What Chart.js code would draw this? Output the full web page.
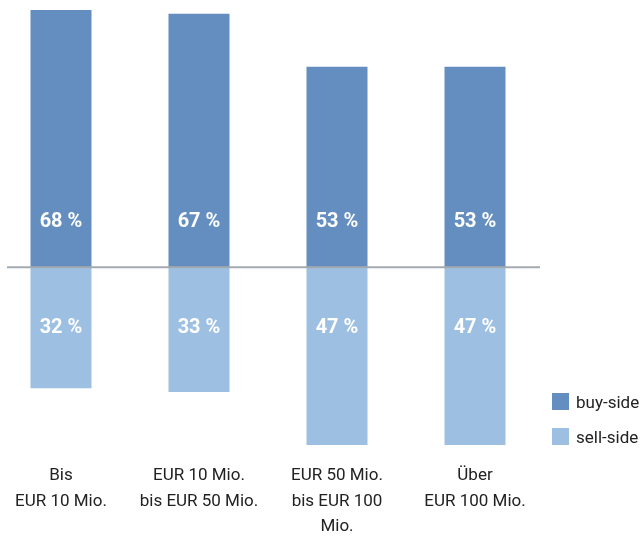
<!DOCTYPE html>
<html>
<head>
<meta charset="utf-8">
<script src="https://cdn.jsdelivr.net/npm/chart.js@4/dist/chart.umd.min.js"></script>
<style>
  html, body { margin: 0; padding: 0; background: #ffffff; overflow: hidden; font-family: Roboto, "Noto Sans", sans-serif; }
  #wrap { position: absolute; left: -8px; top: 0; width: 652px; height: 536px; }
  #legend { position: absolute; left: 552px; top: 393px; }
  .item { display: flex; align-items: center; height: 17px; margin-bottom: 18px; font-size: 17px; color: #222222; }
  .box { width: 17px; height: 17px; margin-right: 7px; }
</style>
</head>
<body>
<div id="wrap"><canvas id="c" width="652" height="536"></canvas></div>
<div id="legend"></div>
<script>
const categories = [
  ['Bis', 'EUR 10 Mio.'],
  ['EUR 10 Mio.', 'bis EUR 50 Mio.'],
  ['EUR 50 Mio.', 'bis EUR 100', 'Mio.'],
  ['Über', 'EUR 100 Mio.']
];
const buySide = [68, 67, 53, 53];
const sellSide = [32, 33, 47, 47];
const seriesNames = ['buy-side', 'sell-side'];
const seriesColors = ['#638ebf', '#9dbfe2'];

const FONT = 'Roboto, "Noto Sans", sans-serif';

const zeroLine = {
  id: 'zeroLine',
  afterDatasetsDraw(chart) {
    const y = chart.scales.y.getPixelForValue(0);
    const a = chart.chartArea;
    const ctx = chart.ctx;
    ctx.save();
    ctx.strokeStyle = '#a3aab1';
    ctx.lineWidth = 2;
    ctx.beginPath();
    ctx.moveTo(a.left + 15, y);
    ctx.lineTo(a.right - 4, y);
    ctx.stroke();
    ctx.restore();
  }
};

const valueLabels = {
  id: 'valueLabels',
  afterDatasetsDraw(chart) {
    const ctx = chart.ctx;
    const y0 = chart.scales.y.getPixelForValue(0);
    ctx.save();
    ctx.fillStyle = '#ffffff';
    ctx.font = 'bold 20px ' + FONT;
    ctx.textAlign = 'center';
    ctx.textBaseline = 'middle';
    chart.data.datasets.forEach((ds, di) => {
      const meta = chart.getDatasetMeta(di);
      meta.data.forEach((bar, i) => {
        const v = Math.abs(ds.data[i]);
        const y = di === 0 ? y0 - 45 : y0 + 61;
        ctx.fillText(v + ' %', bar.x, y);
      });
    });
    ctx.restore();
  }
};

const chart = new Chart(document.getElementById('c'), {
  type: 'bar',
  data: {
    labels: categories,
    datasets: [
      { label: seriesNames[0], data: buySide, backgroundColor: seriesColors[0], barPercentage: 0.442, categoryPercentage: 1.0 },
      { label: seriesNames[1], data: sellSide.map(v => -v), backgroundColor: seriesColors[1], barPercentage: 0.442, categoryPercentage: 1.0 }
    ]
  },
  options: {
    responsive: false,
    animation: false,
    layout: { padding: { top: 10, left: 0, right: 100, bottom: 0 } },
    scales: {
      x: {
        stacked: true,
        grid: { display: false, drawTicks: false },
        border: { display: false },
        ticks: { color: '#222222', font: { family: FONT, size: 17, lineHeight: 1.5 }, padding: 18, maxRotation: 0, autoSkip: false },
        afterFit(scale) { scale.height = 91; }
      },
      y: {
        stacked: true,
        display: false,
        min: -47,
        max: 68
      }
    },
    plugins: {
      legend: { display: false },
      tooltip: { enabled: false }
    }
  },
  plugins: [zeroLine, valueLabels]
});

const legendEl = document.getElementById('legend');
chart.data.datasets.forEach(ds => {
  const item = document.createElement('div');
  item.className = 'item';
  const box = document.createElement('span');
  box.className = 'box';
  box.style.background = ds.backgroundColor;
  const txt = document.createElement('span');
  txt.textContent = ds.label;
  item.appendChild(box);
  item.appendChild(txt);
  legendEl.appendChild(item);
});
</script>
</body>
</html>
